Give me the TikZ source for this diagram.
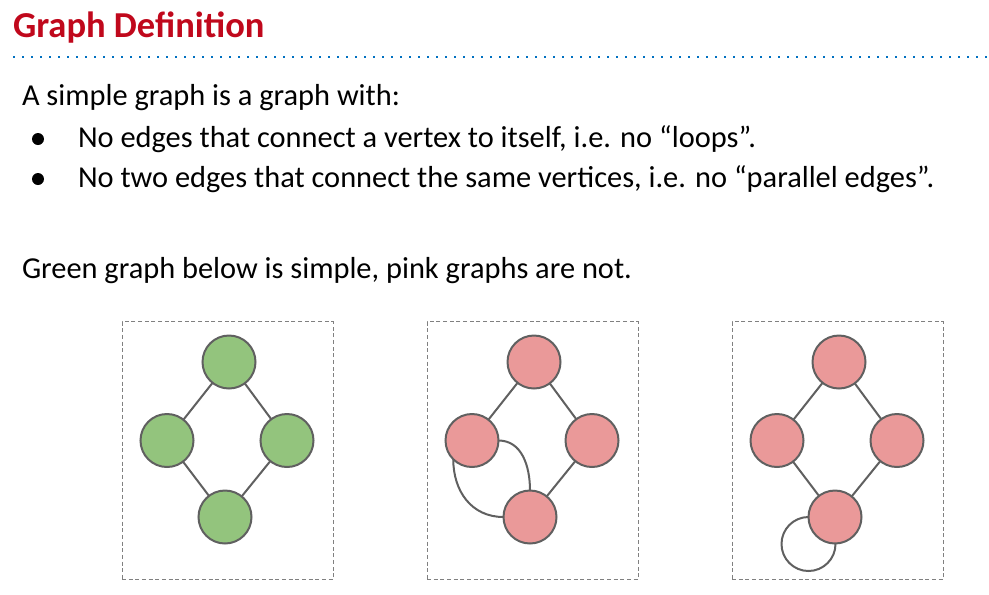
\documentclass[tikz,border=0pt]{standalone}
\usepackage{fontspec}
\setmainfont{Carlito}
\usetikzlibrary{positioning}
\definecolor{titlered}{RGB}{192,8,28}
\definecolor{dotblue}{RGB}{0,112,192}
\definecolor{edgegray}{RGB}{96,96,96}
\definecolor{boxgray}{RGB}{128,128,128}
\definecolor{simplegreen}{RGB}{147,196,125}
\definecolor{multipink}{RGB}{234,153,153}

\begin{document}
\begin{tikzpicture}[x=0.75pt,y=-0.75pt,
  every node/.style={inner sep=0pt,outer sep=0pt},
  vertex/.style={draw=edgegray,circle,line width=1.5pt,minimum size=39.75pt},
  simplenode/.style={vertex,fill=simplegreen},
  multinode/.style={vertex,fill=multipink},
  framebox/.style={draw=boxgray,line width=0.75pt,dash pattern=on 3pt off 2pt,
    minimum width=158.25pt,minimum height=193.5pt},
  edge/.style={draw=edgegray,line width=1.5pt},
  bodytext/.style={anchor=base west,font=\fontsize{22.8}{27}\selectfont},
  bulletdot/.style={circle,fill=black,minimum size=9pt}
]
\useasboundingbox (0,0) rectangle (989,594);

% the heading
\node[anchor=base west,text=titlered,font=\fontsize{27.4}{32}\selectfont\bfseries]
  (title) at (13,37) {Graph Definition};
\draw[dotblue,line width=1.5pt,dash pattern=on 1.5pt off 5.25pt] (13,57) -- (989,57);

% the text
\node[bodytext] (intro) at (22,105) {A simple graph is a graph with:};
\node[bulletdot] (dot1) at (38,139) {};
\node[bodytext] (rule1) at (78,147) {No edges that connect a vertex to itself, i.e. no \char"201C loops\char"201D.};
\node[bulletdot] (dot2) at (38,179) {};
\node[bodytext] (rule2) at (78,187) {No two edges that connect the same vertices, i.e. no \char"201C parallel edges\char"201D.};
\node[bodytext] (remark) at (22,278) {Green graph below is simple, pink graphs are not.};

% the three graphs
\foreach \g/\dx/\kind in {1/0/simplenode,2/305/multinode,3/610/multinode}{
  \begin{scope}[shift={(\dx,0)}]
    \node[framebox] (box\g) at (227.5,450.5) {};
    \node[\kind] (t\g) at (229,362) {};
    \node[\kind] (l\g) at (167,440.5) {};
    \node[\kind] (r\g) at (287,440.5) {};
    \node[\kind] (b\g) at (225,517) {};
  \end{scope}
}

% the edges
\draw[edge] (t1) -- (l1);
\draw[edge] (t1) -- (r1);
\draw[edge] (l1) -- (b1);
\draw[edge] (r1) -- (b1);

\draw[edge] (t2) -- (l2);
\draw[edge] (t2) -- (r2);
\draw[edge] (r2) -- (b2);
\draw[edge] (l2.east) .. controls +(23,0) and +(0,-25) .. (b2.north);
\draw[edge] (l2.225) .. controls +(0,32) and +(-32,0) .. (b2.west);

\draw[edge] (t3) -- (l3);
\draw[edge] (t3) -- (r3);
\draw[edge] (l3) -- (b3);
\draw[edge] (r3) -- (b3);
% the loop
\draw[edge] (b3.west) arc[start angle=90,end angle=360,radius=20.25pt];
\end{tikzpicture}
\end{document}
